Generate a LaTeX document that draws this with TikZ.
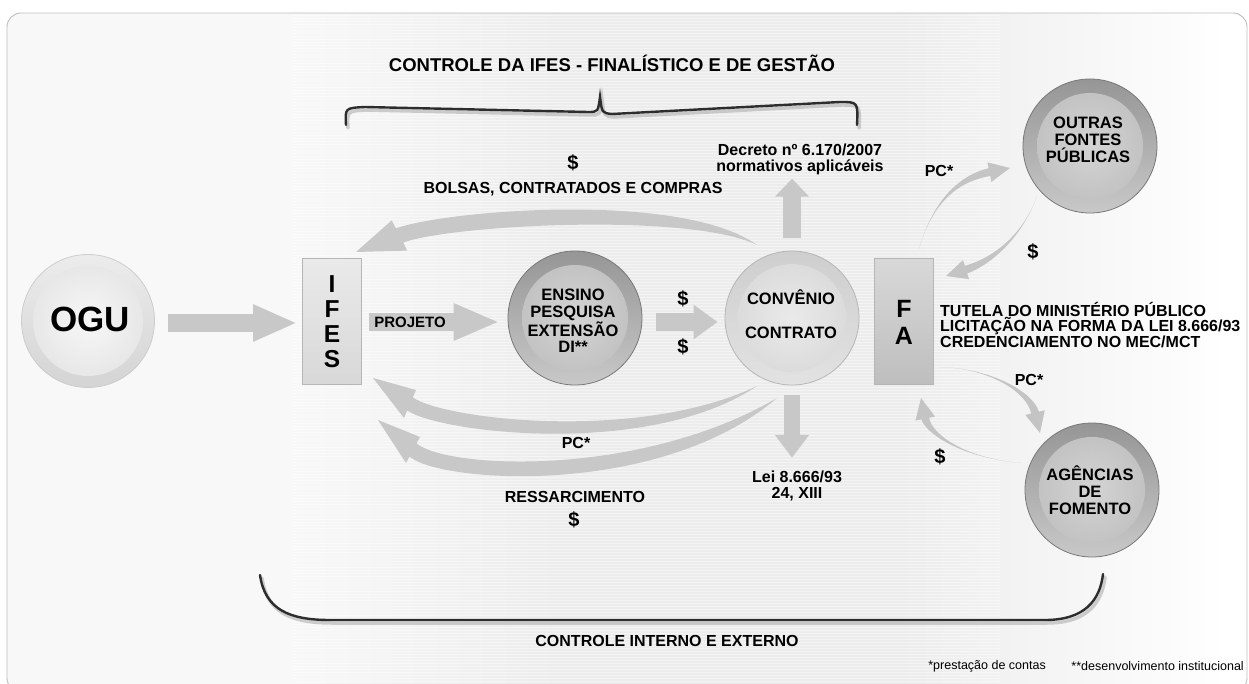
\documentclass[tikz,border=0pt]{standalone}
\usepackage{fontspec}
\setmainfont{Liberation Sans}
\usetikzlibrary{arrows.meta,calc}
\definecolor{arr}{RGB}{200,200,200}
\definecolor{arrt}{RGB}{196,196,196}
\definecolor{framec}{RGB}{190,190,190}
\definecolor{bgc}{RGB}{236,236,236}
\definecolor{bgl}{RGB}{248,248,248}
\definecolor{ringline}{RGB}{120,120,120}
\definecolor{ringtop}{RGB}{150,150,150}
\definecolor{ringbot}{RGB}{200,200,200}
\definecolor{dkinA}{RGB}{212,212,212}
\definecolor{dkinB}{RGB}{190,190,190}
\definecolor{ltline}{RGB}{182,182,182}
\definecolor{lttop}{RGB}{206,206,206}
\definecolor{ltbot}{RGB}{226,226,226}
\definecolor{ltinA}{RGB}{234,234,234}
\definecolor{ltinB}{RGB}{216,216,216}
\definecolor{ogline}{RGB}{205,205,205}
\definecolor{ogtop}{RGB}{236,236,236}
\definecolor{ogbot}{RGB}{212,212,212}
\definecolor{oginA}{RGB}{247,247,247}
\definecolor{oginB}{RGB}{228,228,228}
\definecolor{bracec}{RGB}{45,45,45}
\definecolor{brsh}{RGB}{175,175,175}
% tapered arrow: #1 tail, #2 ctrl1, #3 ctrl2, #4 tip, #5 head length, #6 head half width, #7 shaft half width
\newcommand\taperarrow[7]{%
  \path ($(#4)!#5!(#3)$) coordinate (tmpC);
  \fill[arrt] (#1) .. controls (#2) and ($(#3)!#7*0.7!90:(#4)$) .. ($(tmpC)!#7!90:(#4)$)
    -- ($(tmpC)!#6!90:(#4)$) -- (#4) -- ($(tmpC)!#6!-90:(#4)$) -- ($(tmpC)!#7!-90:(#4)$)
    .. controls ($(#3)!#7*0.7!-90:(#4)$) and (#2) .. (#1) -- cycle;}
\begin{document}
\begin{tikzpicture}[x=1pt,y=-1pt,
  lbl/.style={font=\bfseries\fontsize{16}{16}\selectfont, inner sep=0pt, align=center},
  dollar/.style={font=\bfseries\fontsize{20}{20}\selectfont, inner sep=0pt},
  ctext/.style={font=\bfseries\fontsize{16.5}{16.7}\selectfont, inner sep=0pt, align=center},
  bigletter/.style={font=\bfseries\fontsize{24.5}{24.5}\selectfont, inner sep=0pt, text height=17.5pt, text depth=0pt},
  faletter/.style={font=\bfseries\fontsize{25}{25}\selectfont, inner sep=0pt, text height=18pt, text depth=0pt},
  fat/.style={draw=arr, line width=18pt, -{Triangle[length=44pt,width=34pt]}},
  ballbase/.style={circle, minimum size=134pt, inner sep=0pt, line width=0.8pt},
  darkball/.style={ballbase, draw=ringline, top color=ringtop, bottom color=ringbot,
    path picture={\shade[inner color=dkinA, outer color=dkinB] (path picture bounding box.center) circle (53pt);}},
  lightball/.style={ballbase, draw=ltline, top color=lttop, bottom color=ltbot,
    path picture={\shade[inner color=ltinA, outer color=ltinB] (path picture bounding box.center) circle (54pt);}},
  ogball/.style={ballbase, minimum size=133pt, draw=ogline, top color=ogtop, bottom color=ogbot,
    path picture={\shade[inner color=oginA, outer color=oginB] (path picture bounding box.center) circle (55pt);}},
  boxbase/.style={rectangle, inner sep=0pt, minimum width=59pt, minimum height=126pt, line width=0.6pt},
  brace/.style={draw=bracec, line width=2.4pt, line cap=round},
  braceshadow/.style={draw=brsh, line width=3.5pt, line cap=round, opacity=0.6}
]
\useasboundingbox (0,0) rectangle (1249,684);
\fill[white] (0,0) rectangle (1249,684);
% background
\begin{scope}
\clip[rounded corners=14pt] (7,13) rectangle (1247,692);
\fill[bgl] (7,13) rectangle (1247,692);
\shade[left color=bgl, right color=bgc] (292,13) rectangle (560,692);
\fill[bgc] (559,13) rectangle (900,692);
\shade[left color=bgc, right color=white] (899,13) rectangle (1230,692);
\fill[white] (1229,13) rectangle (1247,692);
\foreach \yy in {15,18,...,690} \draw[white, opacity=0.45, line width=0.9pt] (292,\yy) -- (1000,\yy);
\end{scope}
\draw[framec, line width=0.9pt, rounded corners=14pt] (7,13) rectangle (1247,692);

% title and top brace
\node[font=\bfseries\fontsize{18.5}{18.5}\selectfont, inner sep=0pt] (title) at (612,63) {CONTROLE DA IFES - FINALÍSTICO E DE GESTÃO};
\draw[braceshadow] (348,128) .. controls (347,111) .. (367,110) -- (590,115) .. controls (600,115) .. (602,100) .. controls (604,116) .. (614,117) -- (842,105) .. controls (860,105) .. (859,128);
\draw[brace] (346,125) .. controls (345,108) .. (365,107) -- (588,112) .. controls (598,112) .. (600,97) .. controls (602,113) .. (612,114) -- (840,102) .. controls (858,102) .. (857,125);

% bottom brace
\draw[braceshadow] (262,578) .. controls (267,613) and (292,623) .. (332,623) -- (1047,623) .. controls (1087,623) and (1102,603) .. (1105,577);
\draw[brace] (260,575) .. controls (265,610) and (290,620) .. (330,620) -- (1045,620) .. controls (1085,620) and (1100,600) .. (1103,574);
\node[lbl] (cie) at (667,641) {CONTROLE INTERNO E EXTERNO};

% main nodes
\node[ogball] (ogu) at (88,321) {};
\node[font=\bfseries\fontsize{35}{35}\selectfont, inner sep=0pt] (ogut) at (90,319) {OGU};
\node[boxbase, draw=ltline, top color=ltinA, bottom color=ltinB] (ifes) at (332,321.5) {};
\node[bigletter] (ifesI) at (332,283.5) {I};
\node[bigletter] (ifesF) at (332,308.5) {F};
\node[bigletter] (ifesE) at (332,333.5) {E};
\node[bigletter] (ifesS) at (332,359) {S};
\node[darkball] (ensino) at (575,318) {};
\node[ctext] (ensinot) at (573,321) {ENSINO\\PESQUISA\\EXTENSÃO\\DI**};
\node[lightball] (conv) at (792,318) {};
\node[ctext] (convt) at (791,314) {CONVÊNIO\\[17pt]CONTRATO};
\node[boxbase, draw=ltline, top color=ltinB, bottom color=dkinB] (fa) at (903.5,321.5) {};
\node[faletter] (faF) at (904,309) {F};
\node[faletter] (faA) at (904,335) {A};
\node[darkball] (outras) at (1090,146) {};
\node[ctext] (outrast) at (1088,140) {OUTRAS\\FONTES\\PÚBLICAS};
\node[darkball] (agencias) at (1092,490) {};
\node[ctext] (agenciast) at (1090,490) {AGÊNCIAS\\DE\\FOMENTO};

% straight arrows
\draw[fat] ([xshift=13pt,yshift=-2pt]ogu.east) -- ([xshift=-5pt,yshift=-1.5pt]ifes.west);
\draw[fat, line width=18pt, -{Triangle[length=46pt,width=34pt]}] ([xshift=7pt,yshift=-0.5pt]ifes.east) -- ([xshift=-8pt,yshift=-0.5pt]ifes.east -| ensino.west);
\node[lbl, font=\bfseries\fontsize{15}{15}\selectfont] (projeto) at (410,322) {PROJETO};
\draw[fat, line width=17pt, -{Triangle[length=24pt,width=33pt]}] ([xshift=14pt,yshift=-4pt]ensino.east) -- ([xshift=-7pt,yshift=-4pt]conv.west);
\node[dollar] (d1) at (683,299) {\$};
\node[dollar] (d2) at (683,347) {\$};

\node[lbl] (decreto) at (800,159) {Decreto nº 6.170/2007\\[0pt]normativos aplicáveis};
\draw[fat, line width=18pt, -{Triangle[length=18pt,width=33pt]}] ([yshift=13pt]conv.north) -- ([yshift=-4pt]conv.north |- decreto.south);
\node[lbl] (lei) at (797,486) {Lei 8.666/93\\[0pt]24, XIII};
\draw[fat, line width=16pt, -{Triangle[length=23pt,width=33pt]}] ([yshift=-10pt]conv.south) -- ([yshift=13pt]conv.south |- lei.north);

% curved big arrows (tapered)
\fill[arr] (757,245) .. controls (680,190) and (442,211) .. (396,228.4) -- (391.7,220.4) -- (356,252) -- (407.3,250.6) -- (403.2,242.6) .. controls (450,225) and (690,212) .. (757,245) -- cycle;
\node[dollar] (d3) at (573,163) {\$};
\node[lbl] (bolsas) at (573,189) {BOLSAS, CONTRATADOS E COMPRAS};

\fill[arr] (757,386) .. controls (640,442) and (446,420) .. (412.8,397.5) -- (416,390) -- (373,378) -- (404,418) -- (407.2,410.5) .. controls (440,433) and (650,458) .. (757,386) -- cycle;
\node[lbl] (pc1) at (576,443) {PC*};

\fill[arr] (777,398) .. controls (640,478) and (447,469) .. (416.5,443.4) -- (420,437) -- (378,420) -- (406,463) -- (409.5,456.6) .. controls (440,483) and (660,498) .. (777,398) -- cycle;
\node[lbl] (ress) at (575,497) {RESSARCIMENTO};
\node[dollar] (d4) at (574,520) {\$};

% right side
\node[lbl, align=left, anchor=west, font=\bfseries\fontsize{16}{15.2}\selectfont] (tutela) at (940,325) {TUTELA DO MINISTÉRIO PÚBLICO\\LICITAÇÃO NA FORMA DA LEI 8.666/93\\CREDENCIAMENTO NO MEC/MCT};
\coordinate (a1) at (919,249);
\coordinate (a2) at (1010,168);
\coordinate (b1) at (1037,196);
\coordinate (b2) at (946,276);
\coordinate (c1) at (939,367);
\coordinate (c2) at (1040,433);
\coordinate (e1) at (1022,463);
\coordinate (e2) at (921,398);
\taperarrow{a1}{933,200}{960,178}{a2}{21pt}{10pt}{4pt}
\taperarrow{b1}{1022,238}{990,262}{b2}{21pt}{10pt}{4pt}
\taperarrow{c1}{990,368}{1030,392}{c2}{21pt}{10pt}{4pt}
\taperarrow{e1}{960,458}{928,432}{e2}{21pt}{10pt}{4pt}
\node[lbl] (pc2) at (939,171) {PC*};
\node[dollar] (d5) at (1033,252) {\$};
\node[lbl] (pc3) at (1029,380) {PC*};
\node[dollar] (d6) at (940,457) {\$};

% footnotes
\node[font=\fontsize{12.5}{12.5}\selectfont, inner sep=0pt, anchor=east] (fn1) at (1046,666) {*prestação de contas};
\node[font=\fontsize{12.5}{12.5}\selectfont, inner sep=0pt, anchor=east] (fn2) at (1244,666) {**desenvolvimento institucional};
\end{tikzpicture}
\end{document}
